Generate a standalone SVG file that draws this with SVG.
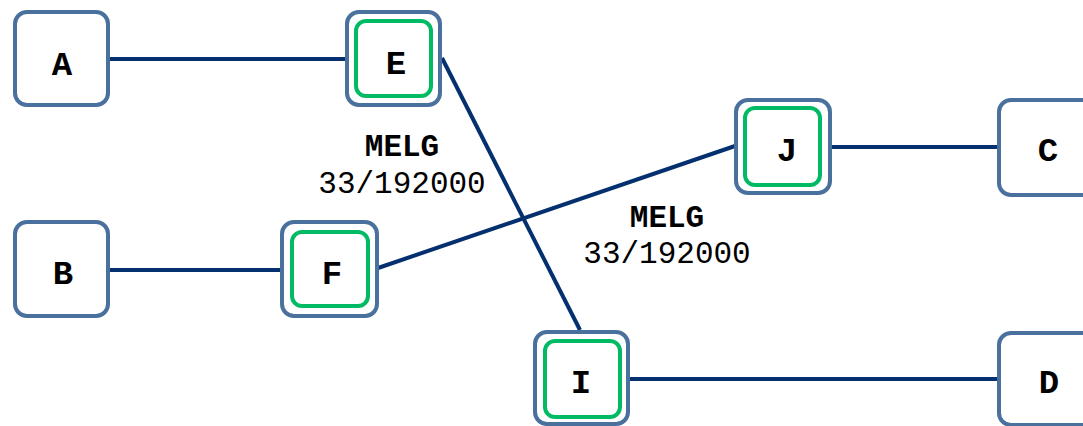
<svg xmlns="http://www.w3.org/2000/svg" width="1083" height="426" viewBox="0 0 1083 426">
<style>
.outer{fill:#fff;stroke:#4a709e;stroke-width:4}
.inner{fill:none;stroke:#00bb63;stroke-width:4}
.edge{stroke:#05306f;stroke-width:4;fill:none}
.nl{font-family:"Courier New","Liberation Mono",monospace;font-weight:bold;font-size:34px;text-anchor:middle;fill:#000}
.lb{font-family:"Courier New","Liberation Mono",monospace;font-size:31px;text-anchor:middle;fill:#000}
.lbb{font-weight:bold}
</style>
<rect width="1083" height="426" fill="#fff"/>
<g id="connectors">
<line class="edge" x1="110" y1="59" x2="345" y2="59"/>
<line class="edge" x1="442" y1="58" x2="580" y2="330"/>
<line class="edge" x1="110" y1="270" x2="280" y2="270"/>
<line class="edge" x1="378" y1="268" x2="735" y2="146"/>
<line class="edge" x1="832" y1="147" x2="998" y2="147"/>
<line class="edge" x1="630" y1="379" x2="998" y2="379"/>
<text class="lb lbb" x="402" y="156">MELG</text>
<text class="lb" x="402" y="193">33/192000</text>
<text class="lb lbb" x="667" y="227">MELG</text>
<text class="lb" x="667" y="263">33/192000</text>
</g>
<g id="A"><rect class="outer" x="15" y="12" width="93" height="93" rx="12"/><text class="nl" x="62" y="75">A</text></g>
<g id="E"><rect class="outer" x="347" y="12" width="93" height="93" rx="12"/><rect class="inner" x="356" y="21" width="75" height="75" rx="10"/><text class="nl" x="396" y="74">E</text></g>
<g id="B"><rect class="outer" x="15" y="222" width="93" height="94" rx="12"/><text class="nl" x="63" y="284">B</text></g>
<g id="F"><rect class="outer" x="282" y="222" width="95" height="94" rx="12"/><rect class="inner" x="292" y="232" width="76" height="74" rx="10"/><text class="nl" x="332" y="284">F</text></g>
<g id="J"><rect class="outer" x="736" y="100" width="94" height="93" rx="12"/><rect class="inner" x="745" y="108" width="75" height="77" rx="10"/><text class="nl" x="787" y="161">J</text></g>
<g id="C"><rect class="outer" x="999" y="100" width="95" height="95" rx="12"/><text class="nl" x="1048" y="161">C</text></g>
<g id="I"><rect class="outer" x="535" y="332" width="93" height="92" rx="12"/><rect class="inner" x="545" y="341" width="75" height="76" rx="10"/><text class="nl" x="581" y="393">I</text></g>
<g id="D"><rect class="outer" x="999" y="333" width="95" height="92" rx="12"/><text class="nl" x="1049" y="393">D</text></g>
</svg>
